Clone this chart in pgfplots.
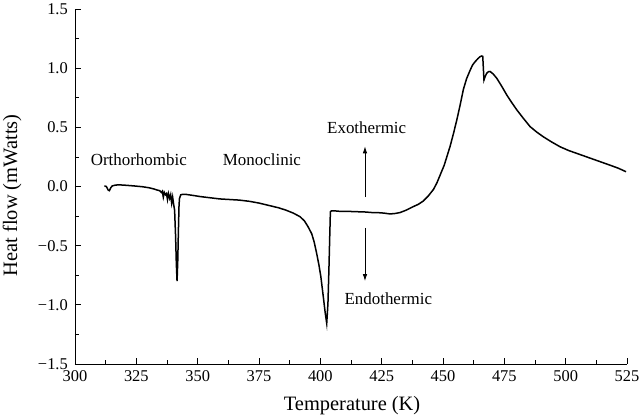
\documentclass[border=0pt]{standalone}
\usepackage{pgfplots}
\pgfplotsset{compat=1.18}
\usetikzlibrary{arrows.meta}
\usepackage{fontspec}
\setmainfont{Liberation Serif}
\begin{document}
\begin{tikzpicture}
\begin{axis}[
  scale only axis, width=552bp, height=355bp,
  xmin=300, xmax=525, ymin=-1.5, ymax=1.5,
  axis x line*=bottom, axis y line*=left,
  tick align=inside,
  major tick length=6bp, minor tick length=4bp,
  xtick={300,325,...,525},
  xticklabels={300,325,350,375,400,425,450,475,500,525},
  ytick={-1.5,-1,-0.5,0,0.5,1,1.5},
  yticklabels={−1.5,−1.0,−0.5,0.0,0.5,1.0,1.5},
  minor x tick num=1, minor y tick num=1,
  tick label style={font=\fontsize{16.5}{19}\selectfont},
  xticklabel style={inner sep=1.5bp, yshift=-5bp},
  yticklabel style={inner sep=2bp, xshift=-5bp},
  xlabel={Temperature (K)}, ylabel={Heat flow (mWatts)},
  label style={font=\fontsize{20.5}{24}\selectfont},
  xlabel style={at={(axis description cs:0.502,-0.118)}, anchor=center},
  ylabel style={at={(axis description cs:-0.114,0.475)}, anchor=center},
  axis line style={line width=0.8bp}, tick style={line width=0.8bp, black},
  clip=false,
]
\addplot[black, line width=1.5bp] coordinates {
(312.0,0.005) (312.8,0.0) (313.5,-0.03) (314.0,-0.035) (314.6,-0.01) (315.2,0.005)
(316.5,0.012) (318.0,0.014) (321.0,0.01) (324.5,0.004) (327.5,-0.002) (330.0,-0.01)
(332.0,-0.02) (333.5,-0.03) (334.5,-0.035) (335.2,-0.05) (335.6,-0.04) (336.0,-0.09)
(336.4,-0.05) (336.9,-0.07) (337.3,-0.06) (337.7,-0.11) (338.1,-0.06) (338.6,-0.10)
(339.0,-0.07) (339.4,-0.14) (339.8,-0.09) (340.2,-0.15) (340.6,-0.20) (341.0,-0.42)
(341.3,-0.65) (341.6,-0.80) (341.9,-0.62) (342.1,-0.42) (342.4,-0.16) (342.6,-0.10)
(343.1,-0.07) (344.0,-0.066) (345.0,-0.066) (348.0,-0.075) (351.0,-0.085) (355.0,-0.095)
(359.0,-0.105) (363.0,-0.11) (367.0,-0.115) (371.0,-0.125) (375.0,-0.14) (379.0,-0.16)
(383.0,-0.18) (386.0,-0.20) (389.0,-0.225) (391.7,-0.255) (393.5,-0.29) (395.0,-0.34)
(396.5,-0.40) (397.5,-0.47) (398.5,-0.565) (399.4,-0.66) (400.2,-0.76) (401.2,-0.93)
(402.0,-1.07) (402.6,-1.157) (403.1,-0.99) (403.5,-0.70) (403.8,-0.45) (404.1,-0.213)
(404.6,-0.205) (405.3,-0.205) (408.0,-0.21) (411.0,-0.21) (414.8,-0.213) (418.0,-0.215)
(421.0,-0.22) (423.0,-0.22) (426.0,-0.225) (428.4,-0.232) (430.5,-0.228) (432.5,-0.22)
(435.0,-0.20) (437.9,-0.17) (440.0,-0.15) (442.0,-0.122) (444.0,-0.08) (446.1,-0.025)
(447.5,0.03) (448.8,0.095) (450.5,0.18) (452.9,0.34) (454.3,0.45) (455.6,0.56)
(457.0,0.69) (458.3,0.82) (459.6,0.91) (461.0,0.98) (462.0,1.025) (463.1,1.055)
(464.2,1.08) (465.1,1.097) (465.8,1.103) (466.2,1.10) (466.7,0.90) (467.2,0.93)
(467.8,0.957) (468.5,0.97) (469.2,0.972) (470.5,0.95) (471.9,0.915) (474.0,0.845)
(476.0,0.773) (478.0,0.71) (480.1,0.647) (482.8,0.575) (485.5,0.506) (488.2,0.46)
(490.9,0.42) (494.3,0.376) (497.7,0.336) (501.1,0.305) (504.5,0.28) (507.9,0.255)
(511.3,0.23) (514.7,0.205) (518.1,0.18) (521.4,0.155) (524.6,0.125)
};
\node[font=\fontsize{17}{20}\selectfont] at (axis cs:326,0.224) {Orthorhombic};
\node[font=\fontsize{17}{20}\selectfont] at (axis cs:376.2,0.224) {Monoclinic};
\node[font=\fontsize{17}{20}\selectfont] at (axis cs:418.9,0.50) {Exothermic};
\node[font=\fontsize{17}{20}\selectfont] at (axis cs:427.7,-0.945) {Endothermic};
\draw[-{Latex[length=7bp,width=4.5bp]}, line width=0.9bp] (axis cs:418.2,-0.09) -- (axis cs:418.2,0.34);
\draw[-{Latex[length=7bp,width=4.5bp]}, line width=0.9bp] (axis cs:418.2,-0.35) -- (axis cs:418.2,-0.80);
\end{axis}
\pgfresetboundingbox
\useasboundingbox (-75bp,-54bp) rectangle (565bp,364bp);
\end{tikzpicture}
\end{document}
